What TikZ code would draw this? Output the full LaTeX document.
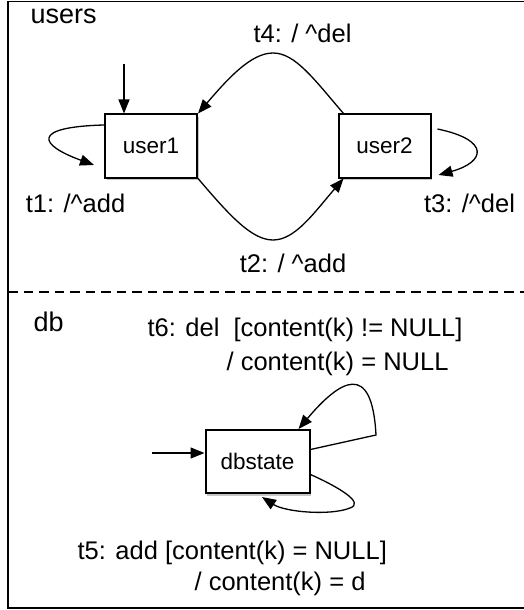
\documentclass[tikz,border=0pt]{standalone}
\usepackage{fontspec}
\setmainfont{Liberation Sans}
\usetikzlibrary{arrows.meta,shadows}

\begin{document}
\begin{tikzpicture}[x=1bp,y=-1bp,line width=1.3bp,>={Triangle[length=14bp,width=11bp]},
  state/.style={draw,line width=2bp,fill=white,minimum width=92bp,minimum height=63bp,inner sep=0pt,
    font=\fontsize{22.5bp}{26bp}\selectfont,
    drop shadow={shadow xshift=1.5bp,shadow yshift=-2.5bp,fill=black!45}},
  lbl/.style={inner sep=0pt,anchor=base,font=\fontsize{25.5bp}{30bp}\selectfont},
  lblw/.style={lbl,anchor=base west},
  title/.style={inner sep=0pt,anchor=base west,font=\fontsize{27bp}{32bp}\selectfont}]
\useasboundingbox (0,0) rectangle (524,610);
% frame and region separator
\draw[line width=1.6bp] (524,1.5)--(8,1.5)--(8,608)--(524,608);
\draw[dash pattern=on 9.5bp off 6bp] (8,292)--(524,292);
% region users
\node[title] (users) at (30,24) {users};
\node[state] (user1) at (151,146) {user1};
\node[state] (user2) at (384.5,146) {user2};
\coordinate (init1) at (124,64);
\draw[->] (init1) -- (init1 |- user1.north);
\draw[->] ([xshift=6bp]user2.north west) .. controls +(-30,-35) and +(22,0) .. (273,53)
  .. controls +(-22,0) and +(30,-35) .. (user1.north east);
\draw[->] (user1.south east) .. controls +(30,35) and +(-22,0) .. (273,240)
  .. controls +(22,0) and +(-30,35) .. ([xshift=6bp]user2.south west);
\draw[->] ([yshift=21bp]user1.west) .. controls +(-74,2) and +(-55,-20) .. ([xshift=-10bp,yshift=-19bp]user1.west);
\draw[->] ([xshift=6bp,yshift=17bp]user2.east) .. controls +(53,11) and +(47,-13) .. ([xshift=7bp,yshift=-29bp]user2.east);
\node[lbl] (t4) at (302.5,43) {t4: / \textasciicircum del};
\node[lbl] (t2) at (293,272) {t2: / \textasciicircum add};
\node[lbl] (t1) at (75.5,212) {t1: /\textasciicircum add};
\node[lbl] (t3) at (469.5,212) {t3: /\textasciicircum del};
% region db
\node[title] (db) at (33,331) {db};
\node[state,minimum width=104bp] (dbstate) at (257.5,461.5) {dbstate};
\coordinate (initdb) at (152,453);
\draw[->] (initdb) -- (initdb -| dbstate.west);
\draw[->] ([yshift=12bp]dbstate.east) -- (376,435) .. controls (372,360) and (340,380) .. ([xshift=-12bp]dbstate.north east);
\draw[->] ([yshift=-13bp]dbstate.east) .. controls +(29,13) and +(15,-5) .. (350,508)
  .. controls +(-20,8) and +(23,15) .. ([xshift=4.5bp,yshift=-3bp]dbstate.south);
\node[lblw] (t6a) at (147,336) {t6: del\ \ [content(k) != NULL]};
\node[lblw] (t6b) at (226,370) {/ content(k) = NULL};
\node[lblw] (t5a) at (77,559) {t5: add [content(k) = NULL]};
\node[lblw] (t5b) at (194,590) {/ content(k) = d};
\end{tikzpicture}
\end{document}
